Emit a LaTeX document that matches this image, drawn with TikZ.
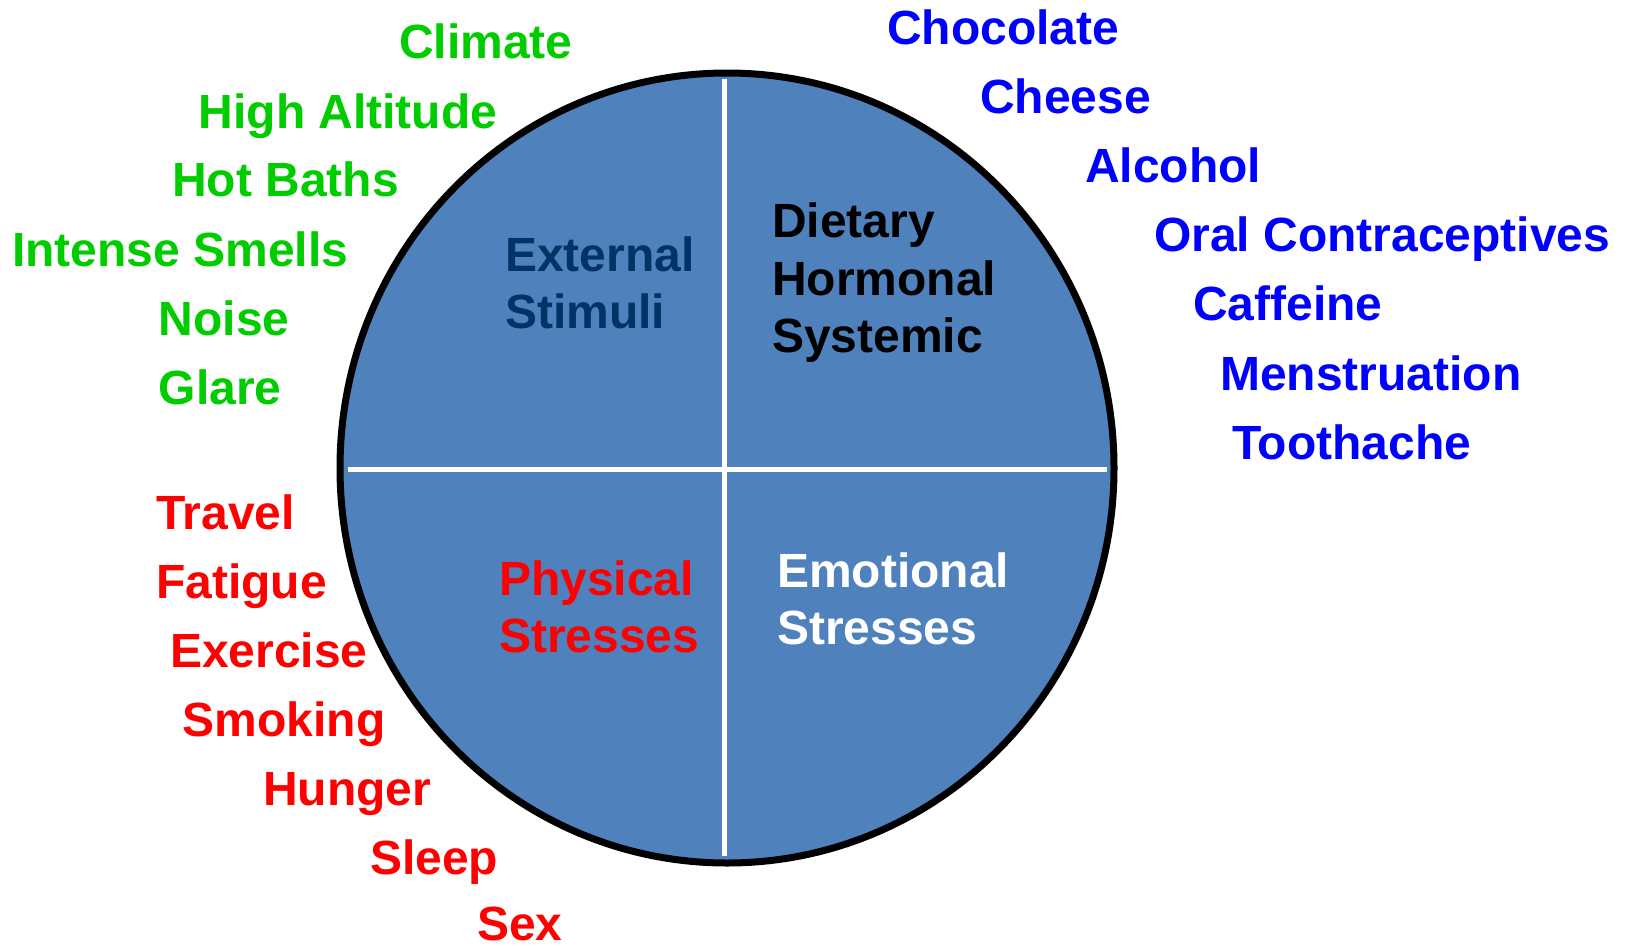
\documentclass[tikz,border=0pt]{standalone}
\usepackage{fontspec}
\setmainfont{Liberation Sans}
\definecolor{circfill}{HTML}{4F81BD}
\definecolor{tgreen}{HTML}{00CC00}
\definecolor{tblue}{HTML}{0000FF}
\definecolor{tred}{HTML}{FF0000}
\definecolor{tnavy}{HTML}{003366}
\tikzset{
  lbl/.style={anchor=base west, inner sep=0pt, font=\fontsize{48}{57.6}\selectfont\bfseries},
  gtxt/.style={lbl, text=tgreen},
  btxt/.style={lbl, text=tblue},
  rtxt/.style={lbl, text=tred},
  divider/.style={white, line width=5pt},
}
\begin{document}
\begin{tikzpicture}[x=1pt,y=-1pt]
\useasboundingbox (0,0) rectangle (1627,945);
% circle
\draw[line width=7pt, fill=circfill] (727,468) ellipse [x radius=387, y radius=395];
\coordinate (vt) at (724.5,79);
\coordinate (vb) at (724.5,856);
\coordinate (hl) at (348,469);
\coordinate (hr) at (1107,469);
\draw[divider] (vt) -- (vb);
\draw[divider] (hl) -- (hr);
% inner labels
\node[lbl, text=tnavy] (ext1) at (505,271) {External};
\node[lbl, text=tnavy] (ext2) at (505,328) {Stimuli};
\node[lbl, text=black] (die1) at (772,237.5) {Dietary};
\node[lbl, text=black] (die2) at (772,295) {Hormonal};
\node[lbl, text=black] (die3) at (772,352.5) {Systemic};
\node[lbl, text=tred] (phy1) at (499,595) {Physical};
\node[lbl, text=tred] (phy2) at (499,652) {Stresses};
\node[lbl, text=white] (emo1) at (777,587) {Emotional};
\node[lbl, text=white] (emo2) at (777,644.5) {Stresses};
% green
\node[gtxt] (g1) at (399,58) {Climate};
\node[gtxt] (g2) at (198.5,128) {High Altitude};
\node[gtxt] (g3) at (172,196) {Hot Baths};
\node[gtxt] (g4) at (12,266) {Intense Smells};
\node[gtxt] (g5) at (158.5,335) {Noise};
\node[gtxt] (g6) at (158.5,404) {Glare};
% blue
\node[btxt] (b1) at (887,44) {Chocolate};
\node[btxt] (b2) at (980,113) {Cheese};
\node[btxt] (b3) at (1085,182) {Alcohol};
\node[btxt] (b4) at (1154,251) {Oral Contraceptives};
\node[btxt] (b5) at (1193,320) {Caffeine};
\node[btxt] (b6) at (1220,390) {Menstruation};
\node[btxt] (b7) at (1232,459) {Toothache};
% red
\node[rtxt] (r1) at (156,529) {Travel};
\node[rtxt] (r2) at (156,598) {Fatigue};
\node[rtxt] (r3) at (170,667) {Exercise};
\node[rtxt] (r4) at (182.5,736) {Smoking};
\node[rtxt] (r5) at (263,805) {Hunger};
\node[rtxt] (r6) at (370,874) {Sleep};
\node[rtxt, text depth=0pt] (r7) at (477,940) {Sex};
\end{tikzpicture}
\end{document}
